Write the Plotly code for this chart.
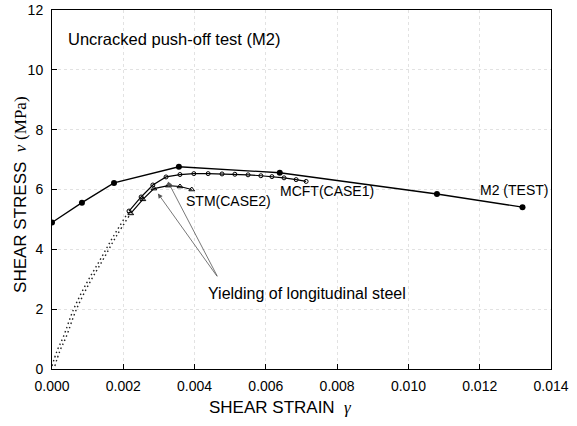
import plotly.graph_objects as go

# Push-off specimen M2: measured response
test_strain = [0.0, 0.00084, 0.00174, 0.00356, 0.00639, 0.0108, 0.0132]
test_stress = [4.9, 5.56, 6.22, 6.76, 6.56, 5.85, 5.41]

# Pre-yield branches of the two analyses (dotted)
pre1_strain = [0.0, 0.00014, 0.00032, 0.0006, 0.00097, 0.00135, 0.00172, 0.00216]
pre1_stress = [0.1, 0.6, 1.08, 1.98, 2.87, 3.65, 4.43, 5.28]
pre2_strain = [0.00008, 0.00022, 0.0004, 0.00068, 0.00105, 0.00143, 0.0018, 0.00221]
pre2_stress = [0.1, 0.6, 1.08, 1.98, 2.87, 3.65, 4.43, 5.2]

# MCFT (CASE1)
mcft_strain = [0.00216, 0.0025, 0.00283, 0.0032, 0.00359, 0.00398, 0.00438, 0.00477,
               0.00513, 0.0055, 0.00586, 0.00617, 0.00651, 0.00685, 0.00713]
mcft_stress = [5.28, 5.75, 6.15, 6.42, 6.5, 6.53, 6.53, 6.52, 6.51, 6.49, 6.46, 6.43,
               6.39, 6.33, 6.27]

# STM (CASE2)
stm_strain = [0.00221, 0.00255, 0.00286, 0.00326, 0.00359, 0.00392]
stm_stress = [5.2, 5.67, 6.03, 6.13, 6.1, 6.0]

x_ticks = [0.0, 0.002, 0.004, 0.006, 0.008, 0.010, 0.012, 0.014]
y_ticks = [0, 2, 4, 6, 8, 10, 12]

fig = go.Figure()

for xs, ys in [(pre1_strain, pre1_stress), (pre2_strain, pre2_stress)]:
    fig.add_trace(go.Scatter(x=xs, y=ys, mode="lines", line_shape="spline",
                             line=dict(color="#222222", width=1.4, dash="1.5px,3px"),
                             showlegend=False))
fig.add_trace(go.Scatter(x=test_strain, y=test_stress, mode="lines+markers",
                         line=dict(color="black", width=1.3),
                         marker=dict(symbol="circle", size=6, color="black"),
                         showlegend=False))
fig.add_trace(go.Scatter(x=mcft_strain, y=mcft_stress, mode="lines+markers",
                         line=dict(color="black", width=1.2),
                         marker=dict(symbol="circle-open", size=4, color="black",
                                     line=dict(width=1)),
                         showlegend=False))
fig.add_trace(go.Scatter(x=stm_strain, y=stm_stress, mode="lines+markers",
                         line=dict(color="black", width=1.2),
                         marker=dict(symbol="triangle-up-open", size=5, color="black",
                                     line=dict(width=1)),
                         showlegend=False))

sans = "Liberation Sans, Arial, sans-serif"
serif = "Liberation Serif, Times New Roman, serif"

annotations = [
    dict(x=0.00038, y=11.03, xref="x", yref="y", text="Uncracked push-off test (M2)",
         showarrow=False, xanchor="left", font=dict(size=16.5, family=sans, color="black")),
    dict(x=0.01397, y=6.0, xref="x", yref="y", text="M2 (TEST)",
         showarrow=False, xanchor="right", font=dict(size=14, family=sans, color="black")),
    dict(x=0.00633, y=5.95, xref="x", yref="y", text="MCFT(CASE1)",
         showarrow=False, xanchor="left", font=dict(size=14, family=sans, color="black")),
    dict(x=0.00371, y=5.6, xref="x", yref="y", text="STM(CASE2)",
         showarrow=False, xanchor="left", font=dict(size=14, family=sans, color="black")),
    dict(x=0.00431, y=2.52, xref="x", yref="y", text="Yielding of longitudinal steel",
         showarrow=False, xanchor="left", font=dict(size=16, family=sans, color="black")),
    # axis titles
    dict(x=0.457, y=-0.106, xref="paper", yref="paper", showarrow=False,
         xanchor="center", yanchor="middle",
         text="SHEAR STRAIN  <i><span style='font-family:" + serif + "'>γ</span></i>",
         font=dict(size=17, family=sans, color="black")),
    dict(x=-0.062, y=0.485, xref="paper", yref="paper", showarrow=False, textangle=-90,
         xanchor="center", yanchor="middle",
         text="SHEAR STRESS  <i><span style='font-family:" + serif + "'>v</span></i>"
              " <span style='font-family:" + serif + "'>(MPa)</span>",
         font=dict(size=17, family=sans, color="black")),
]
for tip_x, tip_y in [(0.00297, 5.87), (0.00325, 6.27)]:
    annotations.append(dict(x=tip_x, y=tip_y, ax=0.00466, ay=3.05, xref="x", yref="y",
                            axref="x", ayref="y", text="", showarrow=True,
                            arrowhead=2, arrowsize=1.2, arrowwidth=0.8,
                            arrowcolor="#555555"))

axis_common = dict(showline=True, linecolor="black", linewidth=1, mirror=True,
                   ticks="inside", ticklen=5, tickcolor="black", automargin=False,
                   showgrid=True, gridcolor="#e2e2e2", griddash="dot", gridwidth=1,
                   zeroline=False, tickfont=dict(size=14, family=sans, color="black"))

fig.update_layout(
    width=577, height=426,
    margin=dict(l=52, r=26, t=10, b=57),
    paper_bgcolor="white", plot_bgcolor="white",
    xaxis=dict(range=[0, 0.014], tickvals=x_ticks,
               ticktext=[f"{v:.3f}" for v in x_ticks], ticklabelstandoff=4,
               **axis_common),
    yaxis=dict(range=[0, 12], tickvals=y_ticks, ticklabelstandoff=5,
               **axis_common),
    annotations=annotations,
)

fig.write_html("out.html")
